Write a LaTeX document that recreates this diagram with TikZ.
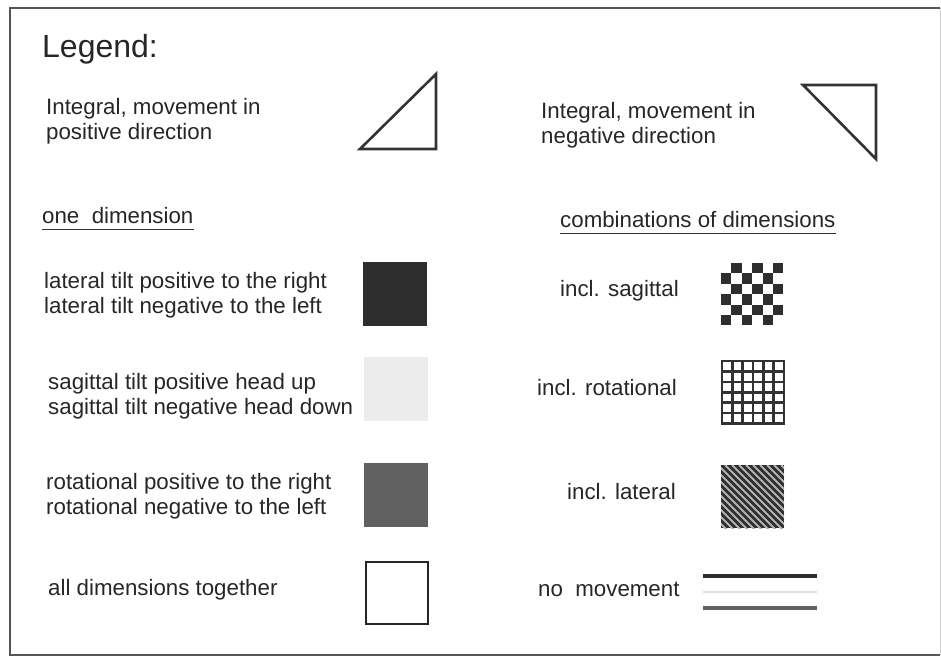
\documentclass[tikz,border=0pt]{standalone}
\usepackage{fontspec}
\setmainfont{Liberation Sans}
\usetikzlibrary{positioning}
\definecolor{latgray}{HTML}{2E2E2E}
\definecolor{saggray}{HTML}{ECECEC}
\definecolor{rotgray}{HTML}{606060}
\definecolor{framegray}{HTML}{555555}
\tikzstyle{txt}=[anchor=west,inner sep=0pt,align=left,text=black!85,font=\fontsize{22.3}{25}\selectfont]
\tikzstyle{sq}=[minimum size=64pt,inner sep=0pt,anchor=north west]
\tikzstyle{tri}=[draw=black!80,line width=2.6pt,line join=miter]
\tikzstyle{ul}=[draw=black!80,line width=1.5pt]

\begin{document}
\begin{tikzpicture}[x=1pt,y=-1pt]
	\useasboundingbox (0,0) rectangle (941,657);
	% frame
	\draw[framegray,line width=2.4pt] (940,8) -- (10,8) -- (10,655) -- (940,655);
	\draw[black!20,line width=1pt] (940,8) -- (940,655);

	\node[txt,font=\fontsize{32}{36}\selectfont] (legend) at (42,49) {Legend:};

	% integral triangles
	\node[txt] (intpos) at (46,121) {Integral, movement in\\positive direction};
	\draw[tri] (360,149) -- (436,74) -- (436,149) -- cycle;
	\node[txt] (intneg) at (541,125) {Integral, movement in\\negative direction};
	\draw[tri] (803,85) -- (876,85) -- (876,159) -- cycle;

	% headings
	\node[txt] (onedim) at (42,216) {one\ \ dimension};
	\draw[ul] ([yshift=-5pt]onedim.south west) -- ([yshift=-5pt]onedim.south east);
	\node[txt] (combdim) at (560,220) {combinations\ of\ dimensions};
	\draw[ul] ([yshift=-5pt]combdim.south west) -- ([yshift=-5pt]combdim.south east);

	% one dimension
	\node[txt] (lat) at (44,295) {lateral tilt positive to the right\\lateral tilt negative to the left};
	\node[sq,fill=latgray] (latsq) at (363,262) {};
	\node[txt] (sag) at (48,396) {sagittal tilt positive head up\\sagittal tilt negative head down};
	\node[sq,fill=saggray] (sagsq) at (364,357) {};
	\node[txt] (rot) at (46,496) {rotational positive to the right\\rotational negative to the left};
	\node[sq,fill=rotgray] (rotsq) at (364,463) {};
	\node[txt] (all) at (48,590) {all dimensions together};
	\node[sq,draw=black!85,line width=2.4pt,minimum size=62pt] (allsq) at (365,561) {};

	% combinations
	\node[txt] (isag) at (560,291) {incl. sagittal};
	\foreach \i in {0,...,5}
	\foreach \j in {0,...,5}
	{
		\pgfmathtruncatemacro{\odd}{mod(\i+\j,2)}
		\ifnum\odd=1
			\fill[latgray] (721+\i*10.4,263+\j*10.4) rectangle ++(10.4,10.4);
		\fi
	}
	\node[txt] (irot) at (537,388) {incl. rotational};
	\foreach \k in {0,...,6}
	{
		\draw[black!80,line width=2.6pt] (722+\k*10.3,361) -- (722+\k*10.3,424);
		\draw[black!80,line width=2.6pt] (721,361+\k*10.4) -- (785,361+\k*10.4);
	}
	\node[txt] (ilat) at (567,492) {incl. lateral};
	\begin{scope}
		\clip (721,465) rectangle (784,528);
		\fill[latgray] (721,465) rectangle (784,528);
		\foreach \s in {-66,-59,...,70}
		{
			\draw[black!30,line width=2pt] (721+\s,465) -- ++(70,70);
		}
	\end{scope}
	\node[txt] (nomov) at (538,589) {no\ \ movement};
	\draw[latgray,line width=3.5pt] (703,576) -- (817,576);
	\draw[black!12,line width=2pt] (703,592) -- (817,592);
	\draw[rotgray,line width=3.5pt] (703,608) -- (817,608);
\end{tikzpicture}
\end{document}
